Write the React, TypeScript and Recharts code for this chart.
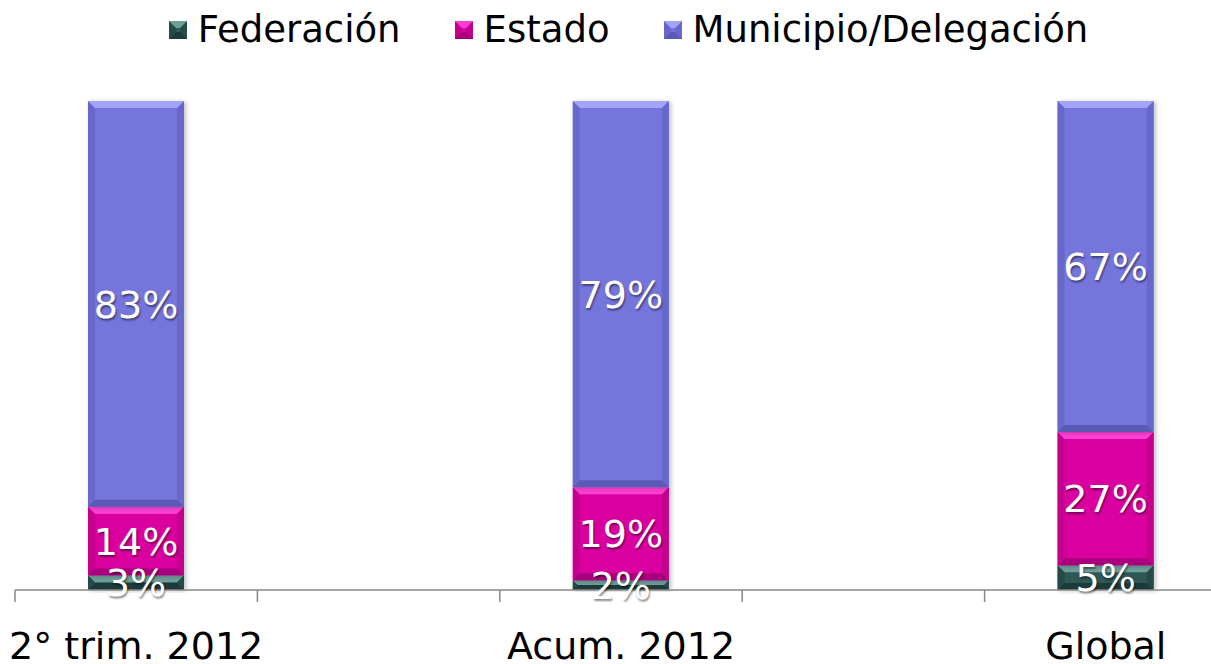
import React from 'react';
import { BarChart, Bar, XAxis, YAxis, Legend, LabelList } from 'recharts';

// categories, empty slots are the blank bands between the bars
const categories = ['2° trim. 2012', '', 'Acum. 2012', '', 'Global'];
const federacion = [3, null, 2, null, 5];
const estado = [14, null, 19, null, 27];
const municipio = [83, null, 79, null, 67];

const data = categories.map((name, i) => ({
  name,
  federacion: federacion[i],
  estado: estado[i],
  municipio: municipio[i],
}));

const FONT = '"DejaVu Sans", Verdana, sans-serif';
const CHART_W = 1240;
const CHART_H = 664;
const MARGIN = { top: 41, right: 13, bottom: 0, left: 15 };
const BAND = (CHART_W - MARGIN.left - MARGIN.right) / categories.length;

const palette = {
  federacion: { base: '#2d5957', top: '#6f9e9a', bottom: '#1d3b39', side: '#254a48' },
  estado: { base: '#da06a0', top: '#ff3fd4', bottom: '#a8007c', side: '#c4008f' },
  municipio: { base: '#7474dc', top: '#a3a3f7', bottom: '#5a5ab4', side: '#6868cc' },
};

const series = [
  { key: 'federacion', label: 'Federación' },
  { key: 'estado', label: 'Estado' },
  { key: 'municipio', label: 'Municipio/Delegación' },
];

type Pal = { base: string; top: string; bottom: string; side: string };

const BevelRect = ({ x, y, w, h, c }: { x: number; y: number; w: number; h: number; c: Pal }) => {
  const b = Math.min(7, h / 2, w / 2);
  return (
    <g>
      <rect x={x} y={y} width={w} height={h} fill={c.base} />
      <polygon points={`${x},${y} ${x + b},${y + b} ${x + b},${y + h - b} ${x},${y + h}`} fill={c.side} />
      <polygon points={`${x + w},${y} ${x + w - b},${y + b} ${x + w - b},${y + h - b} ${x + w},${y + h}`} fill={c.side} />
      <polygon points={`${x},${y} ${x + w},${y} ${x + w - b},${y + b} ${x + b},${y + b}`} fill={c.top} />
      <polygon points={`${x},${y + h} ${x + w},${y + h} ${x + w - b},${y + h - b} ${x + b},${y + h - b}`} fill={c.bottom} />
    </g>
  );
};

const makeShape = (c: Pal) => (props: any) => {
  const { x, y, width, height } = props;
  if (!height || height <= 0 || !width) return <g />;
  return (
    <g filter="url(#barShadow)">
      <BevelRect x={x} y={y} w={width} h={height} c={c} />
    </g>
  );
};

const renderLabel = (props: any) => {
  const vb = props.viewBox || props;
  const { value } = props;
  if (value == null || value === 0) return null;
  const cx = vb.x + vb.width / 2;
  const cy = vb.y + vb.height / 2;
  return (
    <text
      x={cx}
      y={cy}
      dy="0.36em"
      textAnchor="middle"
      fill="#ffffff"
      fontSize={38}
      fontFamily={FONT}
      style={{ textShadow: '1px 2px 2px rgba(0,0,0,0.45)' }}
    >
      {value}%
    </text>
  );
};

const AxisTick = (props: any) => {
  const { x, y, payload, index } = props;
  const axisY = y - 42;
  const left = x - BAND / 2;
  return (
    <g>
      <line x1={left} y1={axisY} x2={left} y2={axisY + 12} stroke="#888888" strokeWidth={1.5} />
      {index === categories.length - 1 && (
        <line x1={x + BAND / 2} y1={axisY} x2={x + BAND / 2} y2={axisY + 12} stroke="#888888" strokeWidth={1.5} />
      )}
      <text x={x} y={axisY + 69} textAnchor="middle" fill="#000" fontSize={38} fontFamily={FONT}>
        {payload.value}
      </text>
    </g>
  );
};

const LegendContent = () => (
  <div
    style={{
      display: 'flex',
      justifyContent: 'center',
      alignItems: 'center',
      height: 60,
      paddingLeft: 15,
      fontFamily: FONT,
      fontSize: 37,
      color: '#000',
      lineHeight: '60px',
    }}
  >
    {series.map((s, i) => (
      <div
        key={s.key}
        style={{ display: 'flex', alignItems: 'center', marginRight: i < series.length - 1 ? 54 : 0 }}
      >
        <svg width={18} height={18} style={{ marginRight: 11 }}>
          <BevelRect x={0} y={0} w={18} h={18} c={(palette as any)[s.key]} />
        </svg>
        <span>{s.label}</span>
      </div>
    ))}
  </div>
);

export default function App() {
  return (
    <div
      style={{
        position: 'absolute',
        left: 0,
        top: 0,
        width: 1211,
        height: 664,
        overflow: 'hidden',
        background: '#fff',
        fontFamily: FONT,
      }}
    >
      <BarChart width={CHART_W} height={CHART_H} data={data} margin={MARGIN} stackOffset="expand" barCategoryGap={0}>
        <defs>
          <filter id="barShadow" x="-10%" y="-10%" width="130%" height="130%">
            <feDropShadow dx="2" dy="1" stdDeviation="2" floodColor="#000" floodOpacity="0.25" />
          </filter>
        </defs>
        <Legend
          verticalAlign="top"
          align="center"
          height={60}
          wrapperStyle={{ top: 0 }}
          content={<LegendContent />}
        />
        <YAxis hide domain={[0, 1]} />
        <XAxis
          dataKey="name"
          interval={0}
          height={74}
          tickSize={12}
          tickMargin={30}
          tickLine={false}
          axisLine={{ stroke: '#888888', strokeWidth: 1.5 }}
          tick={<AxisTick />}
        />
        {series.map((s) => (
          <Bar
            key={s.key}
            dataKey={s.key}
            stackId="a"
            barSize={96}
            isAnimationActive={false}
            fill={(palette as any)[s.key].base}
            shape={makeShape((palette as any)[s.key])}
          >
            <LabelList dataKey={s.key} content={renderLabel} />
          </Bar>
        ))}
      </BarChart>
    </div>
  );
}
